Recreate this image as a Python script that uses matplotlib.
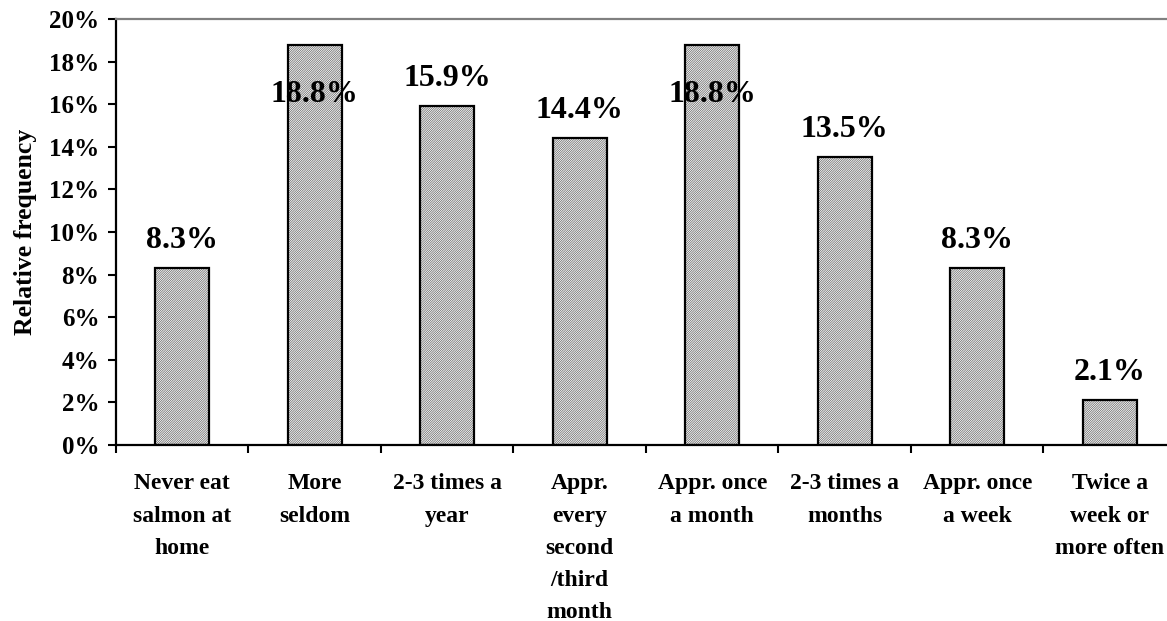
import matplotlib.pyplot as plt
from matplotlib.ticker import PercentFormatter
import numpy as np

# =========================================================
# Salmon eating frequency at home
# =========================================================
categories = [
    "Never eat\nsalmon at\nhome",
    "More\nseldom",
    "2-3 times a\nyear",
    "Appr.\nevery\nsecond\n/third\nmonth",
    "Appr. once\na month",
    "2-3 times a\nmonths",
    "Appr. once\na week",
    "Twice a\nweek or\nmore often",
]
rel_freq = [8.3, 18.8, 15.9, 14.4, 18.8, 13.5, 8.3, 2.1]
y_ticks = [0, 2, 4, 6, 8, 10, 12, 14, 16, 18, 20]

plt.rcParams["font.family"] = ["Liberation Serif", "DejaVu Serif"]
plt.rcParams["font.weight"] = "bold"
plt.rcParams["hatch.linewidth"] = 0.5

fig = plt.figure(figsize=(11.67, 6.21), dpi=100)
ax = fig.add_axes([0.0994, 0.2834, 0.9083, 0.686])

x = np.arange(len(categories))
# hatched fill first, then a plain black outline on top
ax.bar(x, rel_freq, width=0.41, facecolor="white", edgecolor="#606060",
       hatch="///////////////", linewidth=0, zorder=2)
ax.bar(x, rel_freq, width=0.41, facecolor="none", edgecolor="black",
       linewidth=1.6, zorder=3)

ymax = 20
for xi, v in zip(x, rel_freq):
    # labels that would run past the top are pushed down into the bar
    off = 20 if v + 2.5 < ymax else -36
    ax.annotate(f"{v:.1f}%", (xi, v), xytext=(0, off), textcoords="offset points",
                ha="center", va="center", fontsize=23, fontweight="bold",
                zorder=4)

ax.set_xlim(-0.5, len(categories) - 0.5)
ax.set_ylim(0, ymax)
ax.set_yticks(y_ticks)
ax.yaxis.set_major_formatter(PercentFormatter(decimals=0))
ax.set_xticks(x)
ax.set_xticklabels(categories, fontsize=17, fontweight="bold", linespacing=1.7,
                   va="top")
ax.set_xticks(np.arange(len(categories) + 1) - 0.5, minor=True)
ax.tick_params(axis="x", which="major", length=0, pad=20.5)
ax.tick_params(axis="x", which="minor", length=6, width=1.5, direction="out")
ax.tick_params(axis="y", length=6, width=1.5, direction="out", labelsize=18, pad=6)
for lbl in ax.get_yticklabels():
    lbl.set_fontweight("bold")

ax.set_ylabel("Relative frequency", fontsize=18.5, fontweight="bold", labelpad=9)

ax.spines["left"].set_linewidth(1.6)
ax.spines["bottom"].set_linewidth(1.6)
ax.spines["top"].set_color("#808080")
ax.spines["top"].set_linewidth(1.6)
ax.spines["right"].set_visible(False)

fig.savefig("out.png", dpi=100)
